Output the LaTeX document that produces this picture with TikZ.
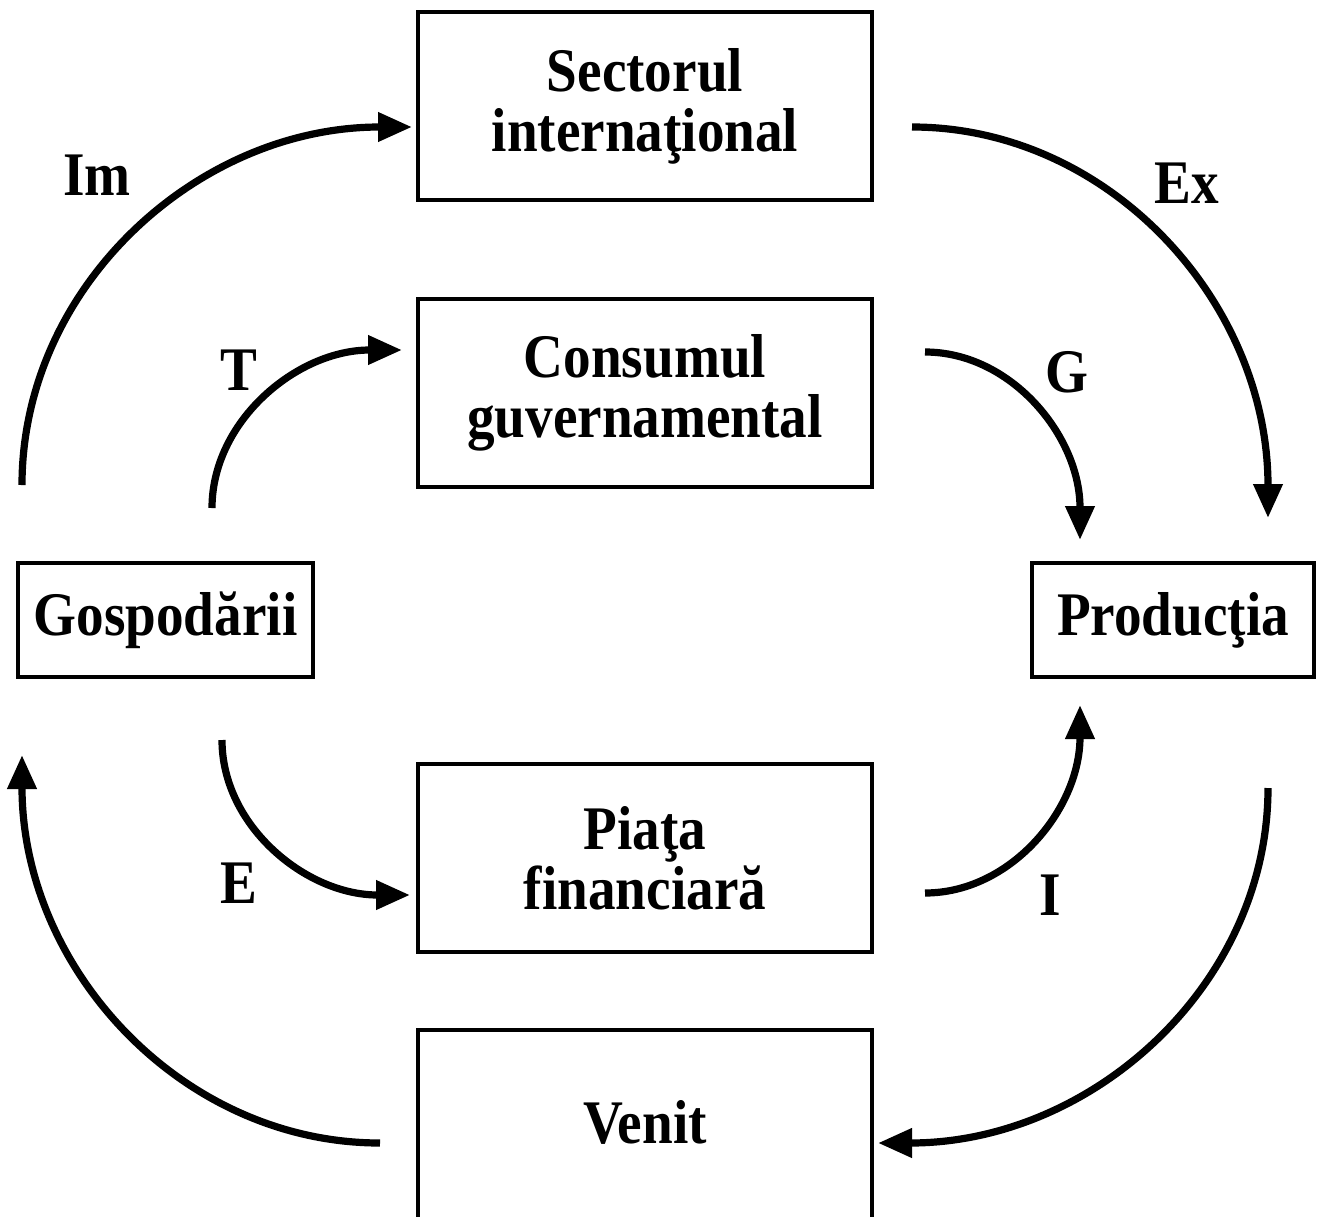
\documentclass[tikz,border=0pt]{standalone}
\usepackage{fontspec}
\setmainfont{Liberation Serif}[FakeStretch=0.89]
\usetikzlibrary{arrows.meta}
\tikzset{
  box/.style={draw, line width=2pt, align=center, inner sep=0pt, font=\bfseries\fontsize{31}{30}\selectfont},
  lbl/.style={anchor=base, inner sep=0pt, font=\bfseries\fontsize{31}{30}\selectfont},
  flow/.style={line width=3.6pt, -{Triangle[length=17pt, width=14pt]}}
}
\begin{document}
\begin{tikzpicture}[x=0.5pt, y=-0.5pt]
\useasboundingbox (0,0) rectangle (1317,1216);
% boxes
\node[box, minimum width=227pt, minimum height=94pt] (sec) at (645,106) {Sectorul\\internaţional};
\node[box, minimum width=227pt, minimum height=94pt] (cons) at (645,392.5) {Consumul\\guvernamental};
\node[box, minimum width=227pt, minimum height=94pt] (fin) at (645,858) {Piaţa\\financiară};
\node[box, minimum width=227pt, minimum height=100pt] (ven) at (645,1130) {};
\node[lbl] (ventext) at (645,1143) {Venit};
\node[box, minimum width=147.5pt, minimum height=57pt] (gosp) at (165.5,620) {Gospodării};
\node[box, minimum width=141pt, minimum height=57pt] (prod) at (1173,620) {Producţia};
% labels
\node[lbl] (lim) at (97,195) {Im};
\node[lbl] (lex) at (1187,203) {Ex};
\node[lbl] (lt) at (239,390) {T};
\node[lbl] (lg) at (1067,392) {G};
\node[lbl] (le) at (239,903) {E};
\node[lbl] (li) at (1050,915) {I};
% connector end points
\coordinate (imA) at (22,485);   \coordinate (imB) at (412,127);
\coordinate (exA) at (912,127);  \coordinate (exB) at (1268,518);
\coordinate (tA) at (212,508);   \coordinate (tB) at (402,350);
\coordinate (gA) at (925,352);   \coordinate (gB) at (1080,540);
\coordinate (eA) at (222,740);   \coordinate (eB) at (410,895);
\coordinate (iA) at (925,893);   \coordinate (iB) at (1080,705);
\coordinate (vA) at (1268,788);  \coordinate (vB) at (878,1143);
\coordinate (hA) at (380,1143);  \coordinate (hB) at (22,755);
% connectors
\draw[flow] (imA) .. controls (22,287) and (197,127) .. (imB);
\draw[flow] (exA) .. controls (1109,127) and (1268,302) .. (exB);
\draw[flow] (tA) .. controls (212,421) and (297,350) .. (tB);
\draw[flow] (gA) .. controls (1011,352) and (1080,436) .. (gB);
\draw[flow] (eA) .. controls (222,826) and (306,895) .. (eB);
\draw[flow] (iA) .. controls (1011,893) and (1080,809) .. (iB);
\draw[flow] (vA) .. controls (1268,984) and (1093,1143) .. (vB);
\draw[flow] (hA) .. controls (182,1143) and (22,969) .. (hB);
\end{tikzpicture}
\end{document}
